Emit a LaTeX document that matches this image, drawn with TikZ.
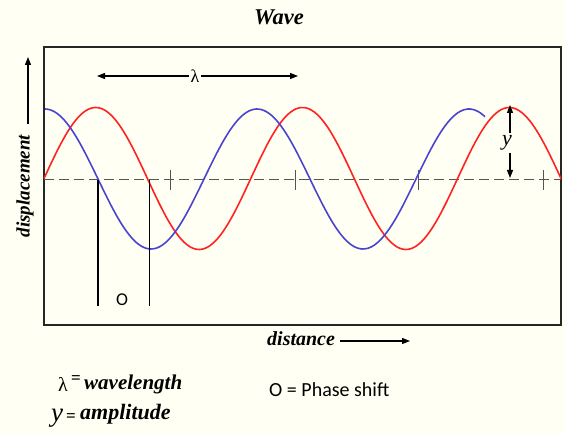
\documentclass[tikz,border=0pt]{standalone}
\usepackage{fontspec}
\setmainfont{Liberation Serif}
\newfontfamily\calfont{Carlito}
\usetikzlibrary{arrows.meta}
\definecolor{bgc}{HTML}{FFFFF3}
\definecolor{wred}{HTML}{FF2222}
\definecolor{wblue}{HTML}{4A44D0}
\definecolor{axc}{HTML}{555555}
\begin{document}
\begin{tikzpicture}[x=1pt,y=-1pt,
  lbl/.style={font=\fontsize{20}{22}\selectfont\bfseries\itshape, inner sep=0pt},
  sans/.style={font=\fontsize{20}{22}\selectfont\calfont, inner sep=0pt},
  arr/.style={-{Triangle[length=8pt,width=6pt]}, line width=1.1pt},
  wave/.style={line width=1.6pt},
  tick/.style={axc, line width=1pt},
  ]
\fill[bgc] (0,0) rectangle (565,435);
\useasboundingbox (0,0) rectangle (565,435);

% title
\node[lbl, font=\fontsize{22.5}{24}\selectfont\bfseries\itshape, anchor=base] (title) at (279,25) {Wave};

% frame
\draw[line width=1.5pt, black!85] (44,47) rectangle (561,325);

% axis
\draw[axc, line width=1pt, dash pattern=on 10pt off 5pt] (44,180) -- (561,180);
\foreach \t in {170,295,418,543} \draw[tick] (\t,170) -- (\t,190);

% waves
\draw[wred, wave] plot[domain=44:561, samples=200, smooth] (\x, {178.5-71*sin((\x-44)*1.74081)});
\draw[wblue, wave] plot[domain=45:485, samples=180, smooth] (\x, {179-70*cos((\x-45)*1.69811)});

% phase shift lines
\coordinate (p1t) at (98,180);
\coordinate (p1b) at (98,306);
\coordinate (p2t) at (149.5,180);
\coordinate (p2b) at (149.5,306);
\draw[line width=1.1pt] (p1t) -- (p1b);
\draw[line width=1.1pt] (p2t) -- (p2b);
\node[sans, font=\fontsize{18}{20}\selectfont\calfont] (olab) at (122,300) {O};

% lambda arrow
\node[font=\fontsize{18}{20}\selectfont, inner sep=1.5pt] (lam) at (195,76) {λ};
\coordinate (laml) at (97,76);
\coordinate (lamr) at (298,76);
\draw[arr] (lam.west) -- (laml);
\draw[arr] (lam.east) -- (lamr);

% amplitude marker
\node[font=\fontsize{22}{24}\selectfont\itshape, inner sep=2pt] (ya) at (507,143) {y};
\coordinate (yt) at (510,105);
\coordinate (yb) at (510,178);
\draw[arr] (ya.north -| yt) -- (yt);
\draw[arr] (ya.south -| yb) -- (yb);

% displacement
\node[lbl, rotate=90, font=\fontsize{19}{20}\selectfont\bfseries\itshape] (disp) at (25,186) {displacement};
\coordinate (dtop) at (28,57);
\draw[arr] (28,124) -- (dtop);

% distance
\node[lbl, anchor=base west] (dist) at (267,346) {distance};
\coordinate (dend) at (410,341);
\draw[arr] (340,341) -- (dend);

% legend
\node[font=\fontsize{20}{22}\selectfont, inner sep=0pt, anchor=base] (l1) at (63,392) {λ};
\node[font=\fontsize{17}{18}\selectfont\bfseries, inner sep=0pt, anchor=base] (e1) at (76,384) {=};
\node[lbl, font=\fontsize{21}{22}\selectfont\bfseries\itshape, anchor=base west] (wl) at (84,390) {wavelength};
\node[font=\fontsize{27}{28}\selectfont\itshape, inner sep=0pt, anchor=base] (l2) at (57,422) {y};
\node[font=\fontsize{17}{18}\selectfont\bfseries, inner sep=0pt, anchor=base] (e2) at (71,421) {=};
\node[lbl, font=\fontsize{22}{22}\selectfont\bfseries\itshape, anchor=base west] (amp) at (80,420) {amplitude};
\node[sans, anchor=base west] (ph) at (269,397) {O = Phase shift};
\end{tikzpicture}
\end{document}
